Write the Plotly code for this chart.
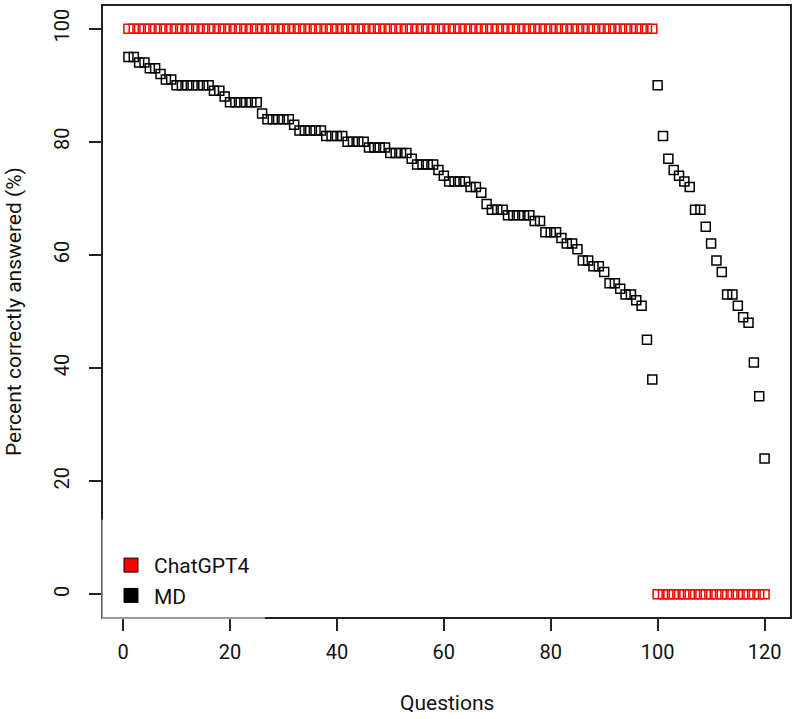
import plotly.graph_objects as go

# ---- data ----
questions_first = list(range(1, 100))      # questions 1..99
questions_second = list(range(100, 121))   # questions 100..120

chatgpt_first = [100] * 99
chatgpt_second = [0] * 21

md_first = [95, 95, 94, 94, 93, 93, 92, 91, 91,
            90, 90, 90, 90, 90, 90, 90,
            89, 89, 88,
            87, 87, 87, 87, 87, 87,
            85,
            84, 84, 84, 84, 84,
            83,
            82, 82, 82, 82, 82,
            81, 81, 81, 81,
            80, 80, 80, 80,
            79, 79, 79, 79,
            78, 78, 78, 78,
            77,
            76, 76, 76, 76,
            75, 74,
            73, 73, 73, 73,
            72, 72, 71, 69,
            68, 68, 68,
            67, 67, 67, 67, 67,
            66, 66,
            64, 64, 64,
            63, 62, 62, 61,
            59, 59, 58, 58, 57,
            55, 55, 54, 53, 53, 52, 51,
            45, 38]
md_second = [90, 81, 77, 75, 74, 73, 72, 68, 68, 65, 62, 59, 57, 53, 53, 51, 49, 48, 41, 35, 24]

x_ticks = [0, 20, 40, 60, 80, 100, 120]
y_ticks = [0, 20, 40, 60, 80, 100]
series_names = ["ChatGPT4", "MD"]
series_colors = ["#ff0000", "#000000"]

FONT = "Roboto"
AXC = "#222222"

fig = go.Figure()

# ChatGPT4 points
fig.add_trace(go.Scatter(
    x=questions_first + questions_second,
    y=chatgpt_first + chatgpt_second,
    mode="markers", showlegend=False,
    marker=dict(symbol="square-open", size=9, color=series_colors[0], line=dict(width=1.5)),
))
# MD points
fig.add_trace(go.Scatter(
    x=questions_first + questions_second,
    y=md_first + md_second,
    mode="markers", showlegend=False,
    marker=dict(symbol="square-open", size=9, color=series_colors[1], line=dict(width=1.5)),
))

# legend entries (filled boxes)
for name, col in zip(series_names, series_colors):
    fig.add_trace(go.Scatter(
        x=[None], y=[None], mode="markers", name=name,
        marker=dict(symbol="square", size=14, color=col, line=dict(width=1, color="#000000")),
    ))

W, H = 796, 719
ml, mr, mt, mb = 103, 5.5, 4.3, 102.3
pw = W - ml - mr
ph = H - mt - mb

def px_to_paper_x(px):
    return (px - ml) / pw

def px_to_paper_y(py):
    return (H - mb - py) / ph

fig.update_layout(
    width=W, height=H,
    margin=dict(l=ml, r=mr, t=mt, b=mb, pad=0),
    paper_bgcolor="white", plot_bgcolor="white",
    font=dict(family=FONT, size=20, color="#111111"),
    xaxis=dict(
        range=[-3.76, 124.76], tickvals=x_ticks, ticktext=[str(v) for v in x_ticks],
        ticks="outside", ticklen=12, tickwidth=1.5, tickcolor=AXC,
        showline=True, linecolor=AXC, linewidth=1.5, mirror=True,
        showgrid=False, zeroline=False, ticklabelstandoff=4,
        tickfont=dict(family=FONT, size=20, color="#111111"),
    ),
    yaxis=dict(
        range=[-4, 104], tickvals=y_ticks, ticktext=[str(v) for v in y_ticks],
        tickangle=-90,
        ticks="outside", ticklen=12, tickwidth=1.5, tickcolor=AXC,
        showline=True, linecolor=AXC, linewidth=1.5, mirror=True,
        showgrid=False, zeroline=False, ticklabelstandoff=12,
        tickfont=dict(family=FONT, size=20, color="#111111"),
    ),
    legend=dict(
        x=px_to_paper_x(108), xanchor="left",
        y=px_to_paper_y(544.5), yanchor="top",
        bgcolor="rgba(0,0,0,0)", borderwidth=0,
        font=dict(family=FONT, size=21, color="#111111"),
        tracegroupgap=0, itemwidth=36,
    ),
    annotations=[
        dict(text="Questions", xref="paper", yref="paper",
             x=0.5, y=px_to_paper_y(703), xanchor="center", yanchor="middle",
             showarrow=False, font=dict(family=FONT, size=21, color="#111111")),
        dict(text="Percent correctly answered (%)", xref="paper", yref="paper",
             x=px_to_paper_x(14), y=px_to_paper_y(311), xanchor="center", yanchor="middle",
             textangle=-90, showarrow=False, font=dict(family=FONT, size=21, color="#111111")),
    ],
    shapes=[
        dict(type="rect", xref="paper", yref="paper", layer="above",
             x0=px_to_paper_x(101.5), x1=px_to_paper_x(265),
             y0=px_to_paper_y(619), y1=px_to_paper_y(519),
             fillcolor="rgba(255,255,255,0.55)", line=dict(width=0)),
    ],
)

fig.write_html("out.html")
